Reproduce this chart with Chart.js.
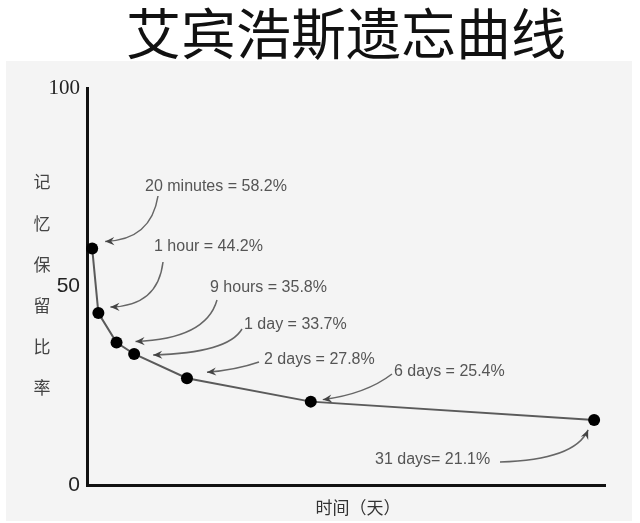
<!DOCTYPE html>
<html>
<head>
<meta charset="utf-8">
<script src="https://cdn.jsdelivr.net/npm/chart.js@4"></script>
<style>
  html, body { margin: 0; padding: 0; background: #fff; }
</style>
</head>
<body>
<canvas id="curve" width="640" height="523"></canvas>
<script>
/* 艾宾浩斯遗忘曲线 */

const titleText = '艾宾浩斯遗忘曲线';
const yTitle = '记忆保留比率';
const xTitle = '时间（天）';

// where each measurement sits along the (unlabelled, non-linear) time axis, 0-100
const timePos = [1.0, 2.2, 5.7, 9.1, 19.3, 43.2, 97.9];
// retention as plotted in the picture
const retention = [59.6, 43.3, 35.9, 33.0, 26.9, 21.0, 16.4];
const noteTexts = [
  '20 minutes = 58.2%',
  '1 hour = 44.2%',
  '9 hours = 35.8%',
  '1 day = 33.7%',
  '2 days = 27.8%',
  '6 days = 25.4%',
  '31 days= 21.1%',
];
const yTicks = [0, 50, 100];

// label placement + arrow shape for each note (tip is relative to its point)
const noteLayout = [
  { tx: 145, ty: 187, sx: 158, sy: 196, cx: 151, cy: 240, dx: 13, dy: -7 },
  { tx: 154, ty: 247, sx: 163, sy: 262, cx: 158, cy: 306, dx: 12, dy: -6 },
  { tx: 210, ty: 288, sx: 217, sy: 300, cx: 206, cy: 339, dx: 19, dy: -1 },
  { tx: 244, ty: 325, sx: 242, sy: 329, cx: 228, cy: 353, dx: 19, dy: 1 },
  { tx: 264, ty: 360, sx: 259, sy: 362, cx: 236, cy: 370, dx: 20, dy: -6 },
  { tx: 394, ty: 372, sx: 392, sy: 374, cx: 366, cy: 394, dx: 12, dy: -2 },
  { tx: 375, ty: 460, sx: 500, sy: 462, cx: 575, cy: 460, dx: -6, dy: 10 },
];

const decor = {
  id: 'decor',
  beforeDraw(chart) {
    const ctx = chart.ctx;
    ctx.save();
    ctx.fillStyle = '#f4f4f4';
    ctx.fillRect(6, 61, 626, 460);
    ctx.restore();
  },
  afterDatasetsDraw(chart) {
    const ctx = chart.ctx;
    const pts = chart.getDatasetMeta(0).data;
    ctx.save();

    // axis titles
    ctx.fillStyle = '#444';
    ctx.textAlign = 'center';
    ctx.textBaseline = 'middle';
    ctx.font = '17px "Noto Sans CJK SC"';
    yTitle.split('').forEach((ch, i) => ctx.fillText(ch, 42, 182 + i * 41.2));
    ctx.fillStyle = '#333';
    ctx.fillText(xTitle, 358, 508);

    // notes with curved arrows
    ctx.font = '16px "Liberation Sans"';
    ctx.textAlign = 'left';
    ctx.lineWidth = 1.5;
    noteLayout.forEach((L, i) => {
      ctx.fillStyle = '#555';
      ctx.fillText(noteTexts[i], L.tx, L.ty);

      const tipX = pts[i].x + L.dx, tipY = pts[i].y + L.dy;
      ctx.strokeStyle = '#666';
      ctx.beginPath();
      ctx.moveTo(L.sx, L.sy);
      ctx.quadraticCurveTo(L.cx, L.cy, tipX, tipY);
      ctx.stroke();

      const a = Math.atan2(tipY - L.cy, tipX - L.cx);
      const back = (len, off) => [tipX - len * Math.cos(a + off), tipY - len * Math.sin(a + off)];
      const p1 = back(10, 0.42), p2 = back(6, 0), p3 = back(10, -0.42);
      ctx.fillStyle = '#444';
      ctx.beginPath();
      ctx.moveTo(tipX, tipY);
      ctx.lineTo(p1[0], p1[1]);
      ctx.lineTo(p2[0], p2[1]);
      ctx.lineTo(p3[0], p3[1]);
      ctx.closePath();
      ctx.fill();
    });
    ctx.restore();
  },
};

new Chart(document.getElementById('curve'), {
  type: 'line',
  data: {
    datasets: [{
      data: timePos.map((x, i) => ({ x, y: retention[i] })),
      borderColor: '#5a5a5a', borderWidth: 2, tension: 0,
      pointRadius: 6, pointBackgroundColor: '#000', pointBorderColor: '#000', pointBorderWidth: 0,
      clip: false,
    }],
  },
  options: {
    responsive: false, animation: false, devicePixelRatio: 1,
    layout: { padding: { left: 0, right: 35, top: 0, bottom: 0 } },
    plugins: {
      legend: { display: false },
      tooltip: { enabled: false },
      title: {
        display: true, text: titleText, fullSize: false, color: '#111',
        font: { family: '"Noto Sans CJK SC"', size: 55, weight: 'normal', lineHeight: 1.2 },
        padding: { top: 0, bottom: 22 },
      },
    },
    scales: {
      x: {
        type: 'linear', min: 0, max: 100,
        grid: { display: false, drawTicks: false },
        border: { display: true, width: 3, color: '#111' },
        ticks: { display: false },
        afterFit: s => { s.height = 38; },
      },
      y: {
        min: 0, max: 100,
        grid: { display: false, drawTicks: false },
        border: { display: true, width: 3, color: '#111' },
        afterBuildTicks: s => { s.ticks = yTicks.map(v => ({ value: v })); },
        ticks: {
          padding: 7, color: '#222',
          font: c => ({ family: c.tick && c.tick.value === 100 ? '"Liberation Serif"' : '"Liberation Sans"', size: 21 }),
        },
        afterFit: s => { s.width = 87; },
      },
    },
  },
  plugins: [decor],
});
</script>
</body>
</html>
